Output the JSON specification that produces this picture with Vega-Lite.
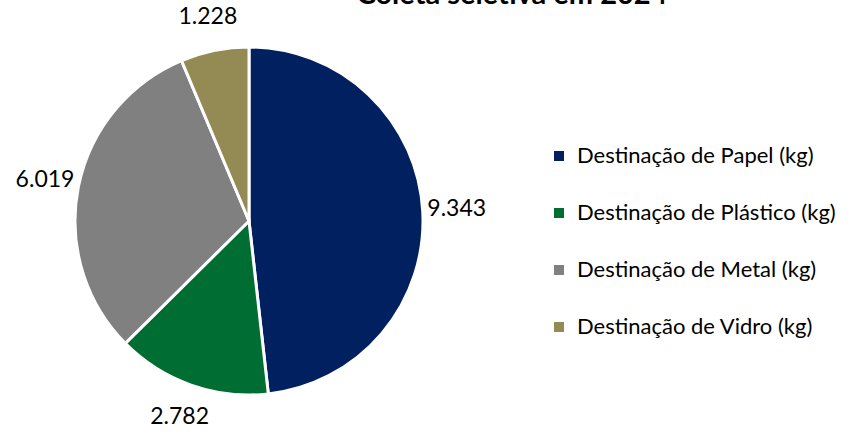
{
  "$schema": "https://vega.github.io/schema/vega-lite/v6.json",
  "autosize": "none",
  "width": 348,
  "height": 348,
  "padding": {"left": 75, "top": 47, "right": 442, "bottom": 44},
  "background": "white",
  "title": {
    "text": "Coleta seletiva em 2024",
    "anchor": "middle",
    "dx": 263,
    "baseline": "alphabetic",
    "offset": -27,
    "font": "Lato",
    "fontSize": 29,
    "fontWeight": "bold",
    "color": "#000000"
  },
  "config": {
    "view": {"stroke": null},
    "locale": {"number": {"decimal": ",", "thousands": ".", "grouping": [3], "currency": ["R$", ""]}}
  },
  "data": {
    "values": [
      {"ordem": 1, "categoria": "Destinação de Papel (kg)", "valor": 9343},
      {"ordem": 2, "categoria": "Destinação de Plástico (kg)", "valor": 2782},
      {"ordem": 3, "categoria": "Destinação de Metal (kg)", "valor": 6019},
      {"ordem": 4, "categoria": "Destinação de Vidro (kg)", "valor": 1228}
    ]
  },
  "encoding": {
    "theta": {"field": "valor", "type": "quantitative", "stack": true},
    "order": {"field": "ordem", "type": "quantitative"}
  },
  "layer": [
    {
      "mark": {"type": "arc", "stroke": "white", "strokeWidth": 3, "outerRadius": 174},
      "encoding": {
        "color": {
          "field": "categoria",
          "type": "nominal",
          "sort": {"field": "ordem"},
          "scale": {
            "domain": ["Destinação de Papel (kg)", "Destinação de Plástico (kg)", "Destinação de Metal (kg)", "Destinação de Vidro (kg)"],
            "range": ["#002060", "#006E33", "#808080", "#948A54"]
          },
          "legend": {
            "title": null,
            "orient": "none",
            "legendX": 473,
            "legendY": 98,
            "symbolType": "square",
            "symbolSize": 100,
            "symbolStrokeWidth": 0,
            "labelFont": "Lato",
            "labelFontSize": 22,
            "labelColor": "#000000",
            "labelOffset": 7,
            "rowPadding": 35,
            "labelLimit": 400
          }
        }
      }
    },
    {
      "mark": {"type": "text", "radius": 208, "font": "Lato", "fontSize": 23, "color": "#000000"},
      "encoding": {
        "text": {"field": "valor", "type": "quantitative", "format": ",d"}
      }
    }
  ]
}
